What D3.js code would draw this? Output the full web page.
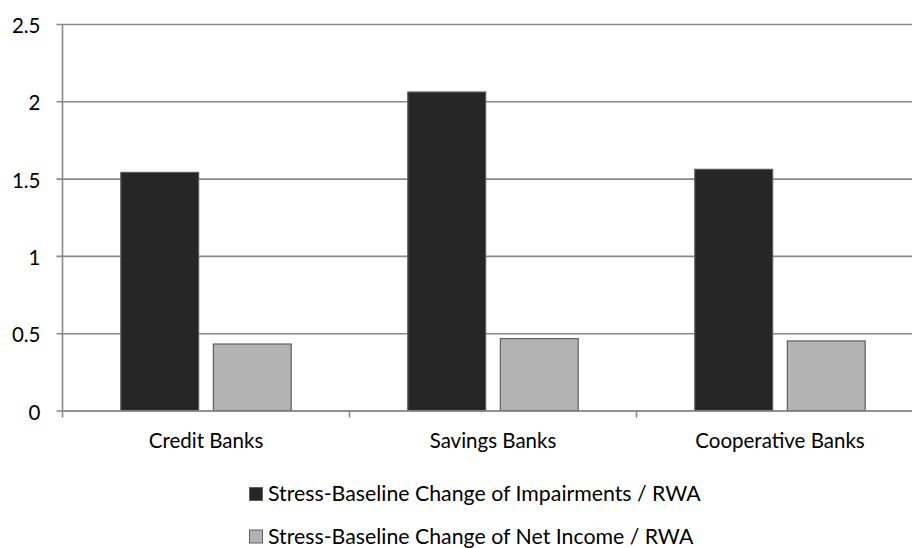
<!DOCTYPE html>
<html>
<head>
<meta charset="utf-8">
<script src="https://cdn.jsdelivr.net/npm/d3@7"></script>
<style>
  html, body { margin: 0; padding: 0; background: #fff; }
  svg { display: block; }
  text { font-family: Lato, "Open Sans", sans-serif; fill: #000; }
</style>
</head>
<body>
<svg id="chart" width="912" height="548"></svg>
<script>
// Bank groups and the two stress-test measures
const categories = ["Credit Banks", "Savings Banks", "Cooperative Banks"];
const seriesNames = [
  "Stress-Baseline Change of Impairments / RWA",
  "Stress-Baseline Change of Net Income / RWA"
];
const impairments = [1.54, 2.06, 1.56];
const netIncome = [0.43, 0.465, 0.45];
const yTicks = [0, 0.5, 1, 1.5, 2, 2.5];
const seriesColors = ["#262626", "#b3b3b3"];

const seriesValues = [impairments, netIncome];
const svg = d3.select("#chart");

const plotLeft = 62.5, plotRight = 923.5, plotTop = 24, plotBottom = 410.5;
const fontSize = "20.5px";

const y = d3.scaleLinear().domain([0, 2.5]).range([plotBottom, plotTop]);
const x0 = d3.scaleBand().domain(categories).range([plotLeft, plotRight]).padding(0);
const x1 = d3.scaleBand().domain(seriesNames).range([0, x0.bandwidth()])
  .paddingInner(0.159).paddingOuter(0.63);

// Horizontal gridlines with short ticks left of the axis
const yAxis = d3.axisLeft(y).tickValues(yTicks).tickSize(-(plotRight - plotLeft)).tickPadding(0)
  .tickFormat(d => d3.format("")(d));
const gy = svg.append("g").attr("transform", `translate(${plotLeft},0)`).call(yAxis);
gy.select(".domain").remove();
gy.selectAll(".tick line").attr("stroke", "#8a8a8a").attr("stroke-width", 1.6)
  .attr("x1", -6);
gy.selectAll(".tick text").attr("x", -22).attr("dy", "0.42em")
  .style("font-size", fontSize).style("font-family", "Lato, sans-serif").attr("fill", "#000");

// Vertical axis line
svg.append("line").attr("x1", plotLeft).attr("x2", plotLeft).attr("y1", plotTop).attr("y2", plotBottom)
  .attr("stroke", "#8a8a8a").attr("stroke-width", 1.6);

// Bars
const groups = svg.append("g").selectAll("g").data(categories).join("g")
  .attr("transform", d => `translate(${x0(d)},0)`);
groups.selectAll("rect")
  .data((c, i) => seriesNames.map((s, k) => ({ s, k, v: seriesValues[k][i] })))
  .join("rect")
  .attr("x", d => x1(d.s))
  .attr("width", x1.bandwidth())
  .attr("y", d => y(d.v))
  .attr("height", d => y(0) - y(d.v))
  .attr("fill", d => seriesColors[d.k])
  .attr("stroke", d => d.k === 0 ? "#5a5a5a" : "#5f5f5f")
  .attr("stroke-width", 1.2);

// Category axis
const xAxis = d3.axisBottom(x0).tickSize(0).tickPadding(22.5);
const gx = svg.append("g").attr("transform", `translate(0,${plotBottom})`).call(xAxis);
gx.select(".domain").attr("stroke", "#8a8a8a").attr("stroke-width", 1.6);
gx.selectAll(".tick text").style("font-size", fontSize).style("font-family", "Lato, sans-serif")
  .attr("fill", "#000");
// Separator ticks between categories
const sepTicks = categories.map(c => x0(c)).concat([plotRight]);
gx.selectAll(".sep").data(sepTicks).join("line").attr("class", "sep")
  .attr("x1", d => d).attr("x2", d => d).attr("y1", 0).attr("y2", 7)
  .attr("stroke", "#8a8a8a").attr("stroke-width", 1.6);

// Legend
const legend = svg.append("g").attr("transform", "translate(249,0)");
const rows = legend.selectAll("g").data(seriesNames).join("g")
  .attr("transform", (d, i) => `translate(0,${501 + i * 42.5})`);
rows.append("rect").attr("x", 0.5).attr("y", -13.5).attr("width", 13).attr("height", 13)
  .attr("fill", (d, i) => seriesColors[i]).attr("stroke", "#5f5f5f").attr("stroke-width", 1);
rows.append("text").attr("x", 19).style("font-size", "21.3px")
  .text(d => d);
</script>
</body>
</html>
